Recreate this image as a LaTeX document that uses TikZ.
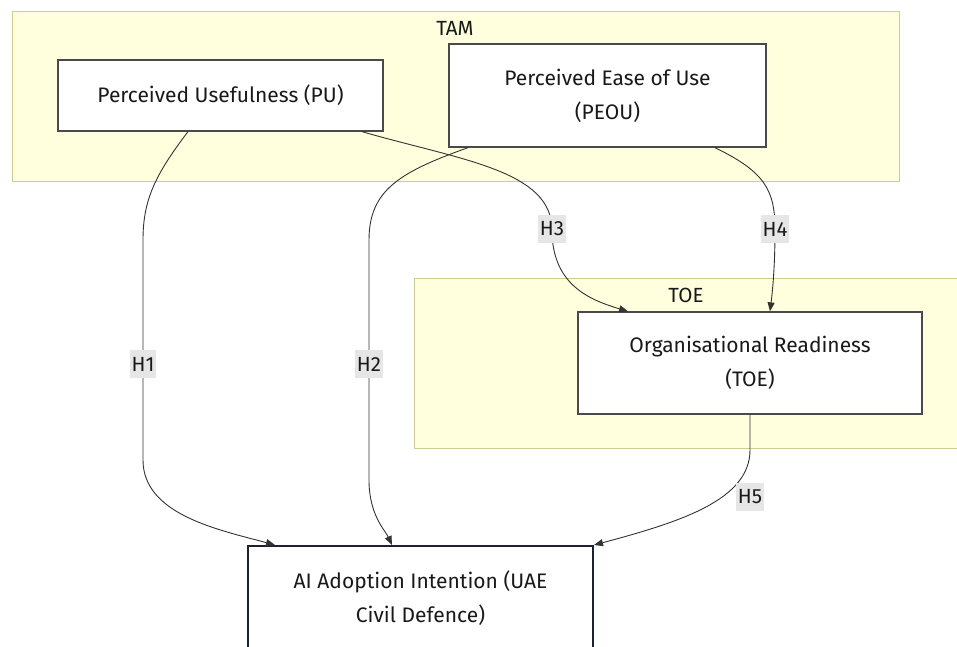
\documentclass[tikz,border=0pt]{standalone}
\usepackage{fontspec}
\setmainfont{Fira Sans}
\usetikzlibrary{arrows.meta,calc}
\definecolor{clusterfill}{HTML}{FFFFDE}
\definecolor{clusterdraw}{HTML}{CDCD93}
\definecolor{boxdraw}{HTML}{4A4A4A}
\definecolor{aidraw}{HTML}{1E2230}
\definecolor{edgecol}{HTML}{333333}
\definecolor{lblbg}{HTML}{E6E6E6}
\begin{document}
\begin{tikzpicture}[x=1pt,y=-1pt,
  cluster/.style={draw=clusterdraw,fill=clusterfill,line width=0.9pt},
  clusterlabel/.style={font=\fontsize{20.5}{24}\selectfont,text=black!90,inner sep=0pt},
  nodebox/.style={draw=boxdraw,fill=white,line width=1.3pt,align=center,
    font=\fontsize{21}{34}\selectfont,text=black!90,inner sep=0pt},
  edge/.style={draw=edgecol,line width=0.9pt,-{Triangle[length=9pt,width=7pt]}},
  lbl/.style={fill=lblbg,font=\fontsize{20.5}{24}\selectfont,text=black!90,inner xsep=1.5pt,inner ysep=7pt}]
\useasboundingbox (0,0) rectangle (957,646);
\clip (0,0) rectangle (957,646);
% clusters
\draw[cluster] (12,11) rectangle (899,181);
\node[clusterlabel] (tam) at (455,28) {TAM};
\draw[cluster] (414,278) rectangle (975,448);
\node[clusterlabel] (toe) at (686,295) {TOE};
% nodes
\node[nodebox,minimum width=325pt,minimum height=71pt] (pu) at (220.5,95.5) {Perceived Usefulness (PU)};
\node[nodebox,minimum width=317pt,minimum height=103pt] (peou) at (607.5,95.5) {Perceived Ease of Use\\(PEOU)};
\node[nodebox,minimum width=344pt,minimum height=102pt] (org) at (750,363) {Organisational Readiness\\(TOE)};
\node[nodebox,draw=aidraw,line width=2pt,minimum width=345pt,minimum height=104pt] (ai) at (420.5,598) {AI Adoption Intention (UAE\\Civil Defence)};
% edges
\draw[edge] ([xshift=-32.5pt]pu.south) .. controls (155,175) and (143,200) .. (143,240) -- (143,460) .. controls (143,515) and (220,530) .. ([xshift=-145.5pt]ai.north);
\draw[edge] ([xshift=-139.5pt]peou.south) .. controls (400,172) and (369,190) .. (369,240) -- (369,480) .. controls (369,515) and (385,530) .. ([xshift=-28.5pt]ai.north);
\draw[edge] ([xshift=141.5pt]pu.south) .. controls (460,160) and (552,170) .. (552,230) .. controls (552,285) and (590,300) .. ([xshift=-122pt]org.north);
\draw[edge] ([xshift=107.5pt]peou.south) .. controls (765,172) and (775,190) .. (775,230) .. controls (775,270) and (772,295) .. ([xshift=20pt]org.north);
\draw[edge] (org.south) -- (750,450) .. controls (750,500) and (680,522) .. ([xshift=173.5pt]ai.north);
% edge labels
\node[lbl] (h1) at (143,364) {H1};
\node[lbl] (h2) at (369,364) {H2};
\node[lbl] (h3) at (552,229) {H3};
\node[lbl] (h4) at (775,229) {H4};
\node[lbl] (h5) at (750,497) {H5};
\end{tikzpicture}
\end{document}
